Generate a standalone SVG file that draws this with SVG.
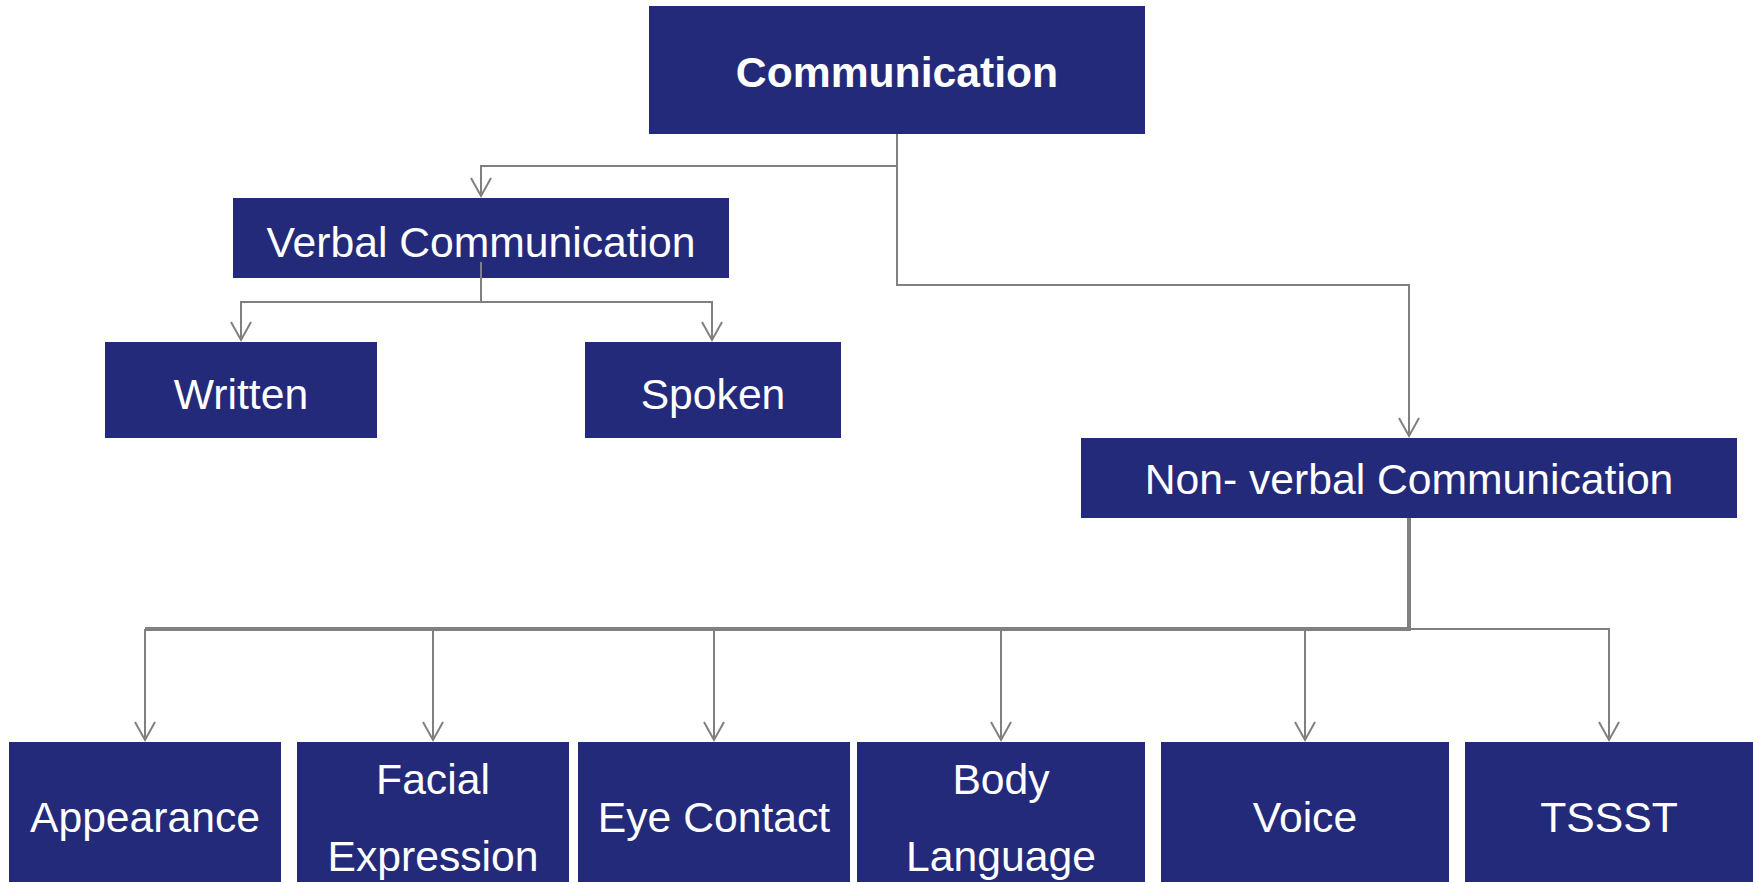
<svg xmlns="http://www.w3.org/2000/svg" width="1753" height="882" viewBox="0 0 1753 882">
<style>
.box{fill:#242A7A}
.t{font-family:"Liberation Sans",Arial,sans-serif;font-size:42.67px;fill:#ffffff;text-anchor:middle}
.b{font-weight:bold}
.c{fill:none;stroke:#808080;stroke-width:2}
.k{stroke-width:4}
</style>
<defs>
<marker id="arr" markerUnits="userSpaceOnUse" markerWidth="40" markerHeight="40" refX="0" refY="0" orient="auto" viewBox="-20 -20 40 40" overflow="visible">
<path d="M-18,-10 L0,0 L-18,10" fill="none" stroke="#808080" stroke-width="2"/>
</marker>
</defs>
<rect width="1753" height="882" fill="#ffffff"/>
<g id="n-communication"><rect class="box" x="649" y="6" width="496" height="128"/><text class="t b" x="897" y="87">Communication</text></g>
<g id="n-verbal"><rect class="box" x="233" y="198" width="496" height="80"/><text class="t" x="481" y="257">Verbal Communication</text></g>
<g id="n-written"><rect class="box" x="105" y="342" width="272" height="96"/><text class="t" x="241" y="409">Written</text></g>
<g id="n-spoken"><rect class="box" x="585" y="342" width="256" height="96"/><text class="t" x="713" y="409">Spoken</text></g>
<g id="n-nonverbal"><rect class="box" x="1081" y="438" width="656" height="80"/><text class="t" x="1409" y="494">Non- verbal Communication</text></g>
<g id="n-appearance"><rect class="box" x="9" y="742" width="272" height="150"/><text class="t" x="145" y="832">Appearance</text></g>
<g id="n-facial"><rect class="box" x="297" y="742" width="272" height="150"/><text class="t" x="433" y="794">Facial</text><text class="t" x="433" y="871">Expression</text></g>
<g id="n-eye"><rect class="box" x="578" y="742" width="272" height="150"/><text class="t" x="714" y="832">Eye Contact</text></g>
<g id="n-body"><rect class="box" x="857" y="742" width="288" height="150"/><text class="t" x="1001" y="794">Body</text><text class="t" x="1001" y="871">Language</text></g>
<g id="n-voice"><rect class="box" x="1161" y="742" width="288" height="150"/><text class="t" x="1305" y="832">Voice</text></g>
<g id="n-tssst"><rect class="box" x="1465" y="742" width="300" height="150"/><text class="t" x="1609" y="832">TSSST</text></g>
<g id="connectors">
<path class="c" d="M897,134 V166 H481 V196" marker-end="url(#arr)"/>
<path class="c" d="M897,134 V285 H1409 V436" marker-end="url(#arr)"/>
<path class="c" d="M481,262 V302 H241 V340" marker-end="url(#arr)"/>
<path class="c" d="M481,302 H712 V340" marker-end="url(#arr)"/>
<path class="c k" d="M1409,518 V629 H145"/>
<path class="c" d="M1409,629 H1609 V740" marker-end="url(#arr)"/>
<path class="c" d="M145,629 V740" marker-end="url(#arr)"/>
<path class="c" d="M433,629 V740" marker-end="url(#arr)"/>
<path class="c" d="M714,629 V740" marker-end="url(#arr)"/>
<path class="c" d="M1001,629 V740" marker-end="url(#arr)"/>
<path class="c" d="M1305,629 V740" marker-end="url(#arr)"/>
</g>
</svg>
